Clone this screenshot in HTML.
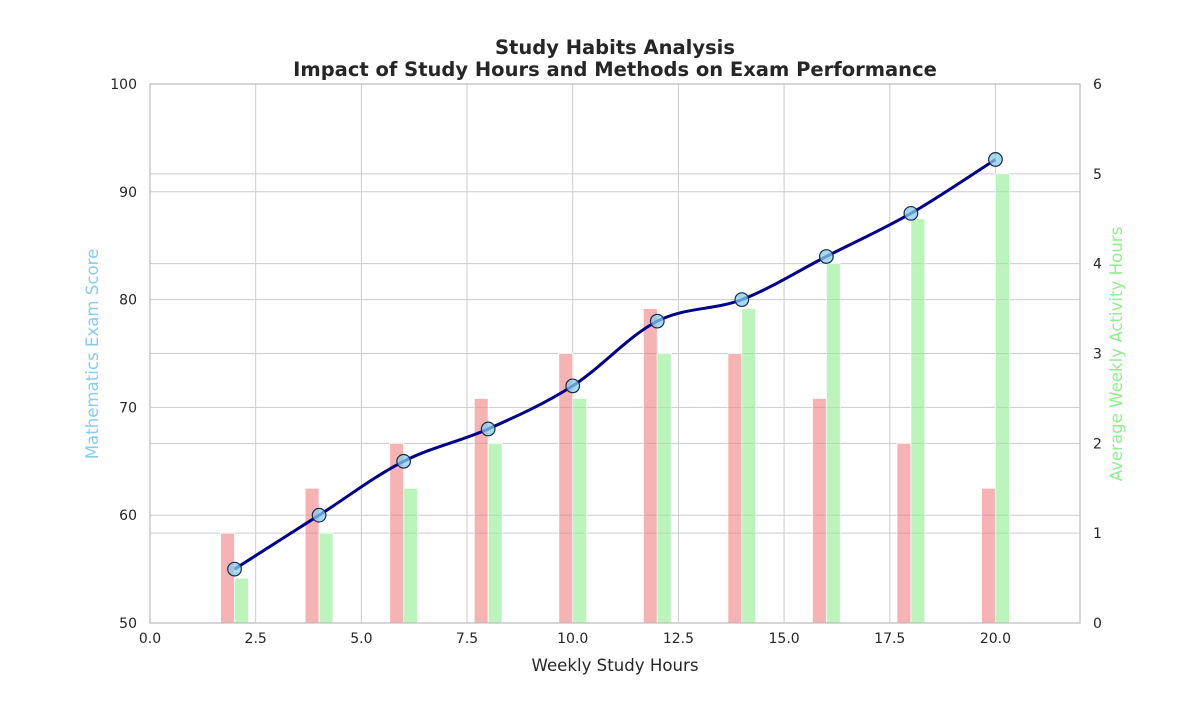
<!DOCTYPE html>
<html><head><meta charset="utf-8"><style>
body{margin:0;background:#fff;}
svg text{font-family:"DejaVu Sans","Liberation Sans",sans-serif;}
</style></head><body>
<svg id="chart" width="1200" height="700" xmlns="http://www.w3.org/2000/svg">
<g id="grid"></g>
<g id="bars"></g>
<g id="line"></g>
<g id="axes"></g>
<text x="615" y="54" text-anchor="middle" font-size="19.5" font-weight="bold" fill="#262626">Study Habits Analysis</text>
<text x="615" y="76" text-anchor="middle" font-size="19.5" font-weight="bold" fill="#262626">Impact of Study Hours and Methods on Exam Performance</text>
<text x="615" y="671" text-anchor="middle" font-size="16.6" fill="#262626">Weekly Study Hours</text>
<text transform="translate(98,354) rotate(-90)" text-anchor="middle" font-size="16.6" fill="#87CEEB">Mathematics Exam Score</text>
<text transform="translate(1122,354) rotate(-90)" text-anchor="middle" font-size="16.6" fill="#90EE90">Average Weekly Activity Hours</text>
</svg>
<script>
const hours=[2,4,6,8,10,12,14,16,18,20];
const scores=[55,60,65,68,72,78,80,84,88,93];
const groupHours=[1,1.5,2,2.5,3,3.5,3,2.5,2,1.5];
const activityHours=[0.5,1,1.5,2,2.5,3,3.5,4,4.5,5];
const xTicks=[0,2.5,5,7.5,10,12.5,15,17.5,20];
const xTickLabels=["0.0","2.5","5.0","7.5","10.0","12.5","15.0","17.5","20.0"];
const yTicks=[50,60,70,80,90,100];
const y2Ticks=[0,1,2,3,4,5,6];

const L=150,R=1080,T=84,B=623;
const X=v=>L+(v-0)/(22-0)*(R-L);
const Y=v=>B-(v-50)/50*(B-T);
const Y2=v=>B-v/6*(B-T);
const NS="http://www.w3.org/2000/svg";
function mk(tag,attrs,parent){const e=document.createElementNS(NS,tag);for(const k in attrs)e.setAttribute(k,attrs[k]);parent.appendChild(e);return e;}
const grid=document.getElementById('grid'),bars=document.getElementById('bars'),line=document.getElementById('line'),axes=document.getElementById('axes');

xTicks.forEach((t,i)=>{
 const g=mk('line',{x1:X(t),x2:X(t),y1:T,y2:B,stroke:'#cccccc','stroke-width':1},grid);
 
 
 const tx=mk('text',{x:X(t),y:B+20,'text-anchor':'middle','font-size':14,fill:'#262626'},axes);
 tx.textContent=xTickLabels[i];
 
 
});
yTicks.forEach(t=>{
 const g=mk('line',{x1:L,x2:R,y1:Y(t),y2:Y(t),stroke:'#cccccc','stroke-width':1},grid);
 
 
 const tx=mk('text',{x:L-13,y:Y(t)+5,'text-anchor':'end','font-size':14,fill:'#262626'},axes);
 tx.textContent=t;
 
 
});
y2Ticks.forEach(t=>{
 const g=mk('line',{x1:L,x2:R,y1:Y2(t),y2:Y2(t),stroke:'#cccccc','stroke-width':1},grid);
 
 
 const tx=mk('text',{x:R+13,y:Y2(t)+5,'text-anchor':'start','font-size':14,fill:'#262626'},axes);
 tx.textContent=t;
 
 
});
const bw=0.33;
hours.forEach((h,i)=>{
 const r=mk('rect',{x:X(h-bw),y:Y2(groupHours[i]),width:X(bw)-X(0),height:B-Y2(groupHours[i]),fill:'#F08080','fill-opacity':0.6,stroke:'#ffffff','stroke-width':0.8},bars);
 
 
 const g=mk('rect',{x:X(h),y:Y2(activityHours[i]),width:X(bw)-X(0),height:B-Y2(activityHours[i]),fill:'#90EE90','fill-opacity':0.6,stroke:'#ffffff','stroke-width':0.8},bars);
 
 
});
const pts=hours.map((h,i)=>[X(h),Y(scores[i])]);
let d=`M${pts[0][0]},${pts[0][1]}`;
for(let i=0;i<pts.length-1;i++){
 const p0=pts[Math.max(0,i-1)],p1=pts[i],p2=pts[i+1],p3=pts[Math.min(pts.length-1,i+2)];
 const c1=[p1[0]+(p2[0]-p0[0])/6,p1[1]+(p2[1]-p0[1])/6];
 const c2=[p2[0]-(p3[0]-p1[0])/6,p2[1]-(p3[1]-p1[1])/6];
 d+=` C${c1[0]},${c1[1]} ${c2[0]},${c2[1]} ${p2[0]},${p2[1]}`;
}
const path=mk('path',{d:d,fill:'none',stroke:'#00008B','stroke-width':3},line);


pts.forEach(p=>{
 const c=mk('circle',{cx:p[0],cy:p[1],r:6.8,fill:'#87CEEB','fill-opacity':0.75,stroke:'#1a2a4a','stroke-width':1.2},line);
 
 
});
const frame=mk('rect',{x:L,y:T,width:R-L,height:B-T,fill:'none',stroke:'#bfbfbf','stroke-width':1.3},axes);


</script>
</body></html>
